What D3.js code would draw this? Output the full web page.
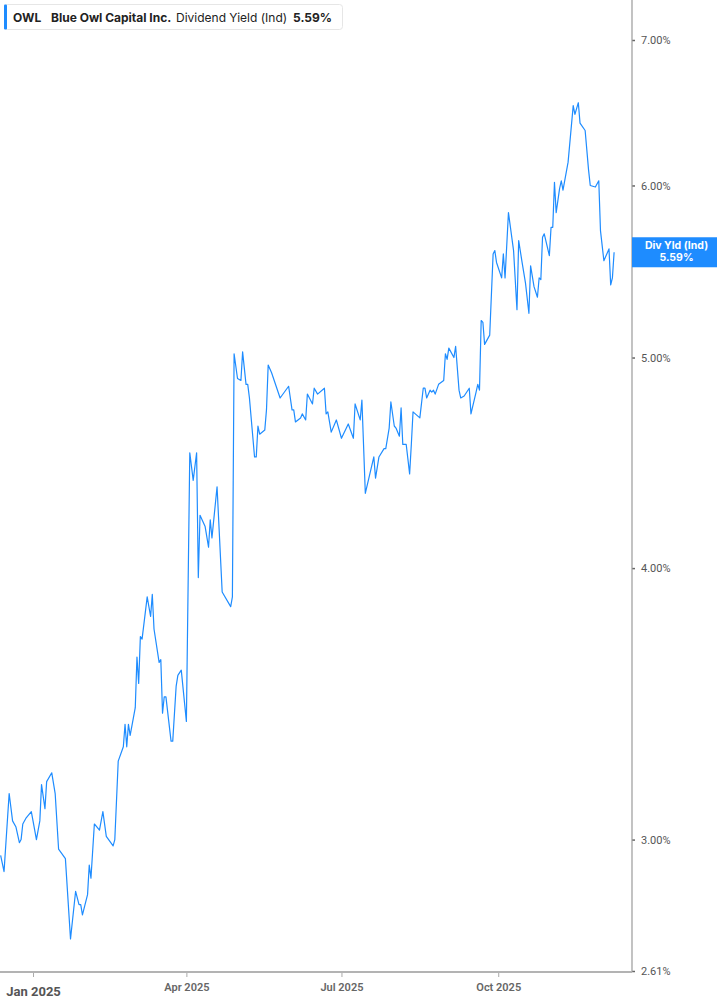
<!DOCTYPE html>
<html><head><meta charset="utf-8">
<script src="https://cdn.jsdelivr.net/npm/d3@7"></script>
<style>
html,body{margin:0;padding:0;background:#fff;}
svg{display:block;}
</style></head>
<body>
<svg id="chart" width="717" height="1005"></svg>
<script>
const ticker = "OWL";
const companyName = "Blue Owl Capital Inc.";
const metricName = "Dividend Yield (Ind)";
const lastLabel = "Div Yld (Ind)";

const dates = [
"2024-12-13","2024-12-15","2024-12-18","2024-12-20","2024-12-22","2024-12-24","2024-12-25","2024-12-26","2024-12-28","2024-12-31",
"2025-01-01","2025-01-03","2025-01-05","2025-01-06","2025-01-08","2025-01-09","2025-01-12","2025-01-14","2025-01-16","2025-01-20",
"2025-01-23","2025-01-26","2025-01-28","2025-01-29","2025-01-30","2025-02-02","2025-02-03","2025-02-04","2025-02-06","2025-02-09",
"2025-02-11","2025-02-13","2025-02-17","2025-02-18","2025-02-20","2025-02-23","2025-02-24","2025-02-25","2025-02-26","2025-02-27",
"2025-03-02","2025-03-03","2025-03-04","2025-03-05","2025-03-06","2025-03-09","2025-03-11","2025-03-12","2025-03-13","2025-03-16",
"2025-03-17","2025-03-18","2025-03-19","2025-03-20","2025-03-23","2025-03-24","2025-03-26","2025-03-27","2025-03-29","2025-04-01",
"2025-04-03","2025-04-05","2025-04-07","2025-04-08","2025-04-09","2025-04-12","2025-04-14","2025-04-15","2025-04-16","2025-04-19",
"2025-04-22","2025-04-27","2025-04-28","2025-04-29","2025-05-01","2025-05-03","2025-05-04","2025-05-06","2025-05-07","2025-05-08",
"2025-05-11","2025-05-12","2025-05-13","2025-05-14","2025-05-17","2025-05-18","2025-05-19","2025-05-21","2025-05-26","2025-05-31",
"2025-06-02","2025-06-03","2025-06-04","2025-06-07","2025-06-08","2025-06-10","2025-06-11","2025-06-14","2025-06-15","2025-06-17",
"2025-06-21","2025-06-22","2025-06-23","2025-06-25","2025-06-28","2025-07-01","2025-07-05","2025-07-08","2025-07-09","2025-07-12",
"2025-07-13","2025-07-15","2025-07-20","2025-07-21","2025-07-23","2025-07-26","2025-07-27","2025-07-29","2025-07-30","2025-08-01",
"2025-08-02","2025-08-04","2025-08-05","2025-08-06","2025-08-08","2025-08-10","2025-08-11","2025-08-12","2025-08-16","2025-08-18",
"2025-08-19","2025-08-20","2025-08-22","2025-08-23","2025-08-24","2025-08-25","2025-08-27","2025-08-30","2025-08-31","2025-09-01",
"2025-09-02","2025-09-05","2025-09-06","2025-09-08","2025-09-09","2025-09-11","2025-09-14","2025-09-15","2025-09-18","2025-09-19",
"2025-09-20","2025-09-21","2025-09-22","2025-09-23","2025-09-26","2025-09-28","2025-09-29","2025-09-30","2025-10-03","2025-10-04",
"2025-10-05","2025-10-07","2025-10-10","2025-10-12","2025-10-13","2025-10-15","2025-10-17","2025-10-19","2025-10-20","2025-10-22",
"2025-10-24","2025-10-25","2025-10-26","2025-10-27","2025-10-28","2025-10-31","2025-11-01","2025-11-02","2025-11-03","2025-11-04",
"2025-11-06","2025-11-07","2025-11-08","2025-11-11","2025-11-14","2025-11-15","2025-11-17","2025-11-18","2025-11-21","2025-11-23",
"2025-11-24","2025-11-27","2025-11-29","2025-11-30","2025-12-02","2025-12-05","2025-12-06","2025-12-07","2025-12-08"
];

const yieldValues = [
2.95,2.90,3.15,3.06,3.04,2.99,3.00,3.05,3.07,3.09,
3.06,3.00,3.06,3.18,3.10,3.19,3.22,3.15,2.97,2.94,
2.70,2.84,2.80,2.80,2.77,2.83,2.92,2.88,3.05,3.03,
3.09,3.01,2.98,3.00,3.26,3.31,3.39,3.31,3.39,3.35,
3.45,3.64,3.54,3.72,3.71,3.88,3.80,3.89,3.75,3.62,
3.63,3.43,3.49,3.49,3.33,3.33,3.53,3.57,3.59,3.40,
4.52,4.39,4.52,3.96,4.23,4.18,4.09,4.21,4.13,4.36,
3.90,3.84,3.88,5.02,4.89,4.88,5.03,4.86,4.86,4.79,
4.50,4.50,4.65,4.61,4.63,4.73,4.96,4.92,4.79,4.85,
4.73,4.73,4.67,4.69,4.71,4.68,4.81,4.76,4.84,4.81,
4.84,4.71,4.72,4.62,4.68,4.59,4.66,4.59,4.76,4.68,
4.78,4.33,4.50,4.40,4.50,4.54,4.54,4.64,4.77,4.65,
4.64,4.60,4.74,4.56,4.56,4.42,4.56,4.72,4.69,4.84,
4.84,4.79,4.83,4.82,4.83,4.81,4.86,4.88,5.02,4.99,
5.05,5.00,5.06,4.83,4.79,4.80,4.84,4.71,4.82,4.86,
4.83,5.20,5.19,5.07,5.12,5.58,5.60,5.53,5.44,5.58,
5.44,5.83,5.60,5.26,5.66,5.53,5.41,5.24,5.51,5.39,
5.33,5.44,5.43,5.68,5.70,5.57,5.74,5.74,6.02,5.83,
5.98,6.03,5.97,6.15,6.53,6.47,6.55,6.41,6.36,6.10,
6.00,5.99,6.03,5.72,5.54,5.61,5.40,5.44,5.59
];

const yTickValues = [3, 4, 5, 6, 7];
const yMinLabel = 2.61;
const xTickDates = ["2025-01-01","2025-04-01","2025-07-01","2025-10-01"];
const xTickLabels = ["Jan 2025","Apr 2025","Jul 2025","Oct 2025"];

const W = 717, H = 1005;
const plotRight = 632, plotBottom = 972;
const blue = "#1e8cff";

const parse = d3.utcParse("%Y-%m-%d");
const data = dates.map((d,i)=>({date: parse(d), v: yieldValues[i]}));

const x = d3.scaleUtc()
  .domain([new Date(Date.UTC(2024,11,12,15)), new Date(Date.UTC(2025,11,18,12))])
  .range([0, plotRight]);
const y = d3.scaleLog().domain([yMinLabel, 7.0]).range([plotBottom - 1, 40]);

const svg = d3.select("#chart");

// line
svg.append("path")
  .datum(data)
  .attr("fill","none")
  .attr("stroke", blue)
  .attr("stroke-width", 1.2)
  .attr("stroke-linejoin","round")
  .attr("d", d3.line().x(d=>x(d.date)).y(d=>y(d.v)));

// right axis
const yAxis = d3.axisRight(y).tickValues(yTickValues.concat([yMinLabel]))
  .tickFormat(d=>d3.format(".2f")(d)+"%").tickSize(3).tickPadding(6);
const ga = svg.append("g").attr("transform",`translate(${plotRight},0)`).call(yAxis);
ga.select(".domain").remove();
ga.selectAll(".tick line").attr("stroke","#666").attr("stroke-width",1.5);
ga.selectAll(".tick text").attr("fill","#555").style("font-family","Roboto, sans-serif").style("font-size","11px");
svg.append("line").attr("x1",plotRight).attr("x2",plotRight).attr("y1",0).attr("y2",plotBottom)
  .attr("stroke","#9a9a9a").attr("stroke-width",1.2);

// bottom axis
const xAxis = d3.axisBottom(x).tickValues(xTickDates.map(parse))
  .tickFormat((d,i)=>xTickLabels[i]).tickSize(5).tickPadding(6);
const gx = svg.append("g").attr("transform",`translate(0,${plotBottom})`).call(xAxis);
gx.select(".domain").remove();
svg.append("line").attr("x1",0).attr("x2",plotRight).attr("y1",plotBottom).attr("y2",plotBottom)
  .attr("stroke","#b3b3b3").attr("stroke-width",2);
gx.selectAll(".tick line").attr("stroke","#aaa").attr("stroke-width",1);
gx.selectAll(".tick text").attr("fill","#666").style("font-family","Roboto, sans-serif")
  .style("font-size","11px").style("font-weight","600");
gx.selectAll(".tick text").filter((d,i)=>i===0)
  .attr("fill","#555").style("font-size","13px").style("font-weight","700")
  .attr("dy","1.0em");

// last value label
const last = data[data.length-1];
const ly = y(last.v);
svg.append("rect").attr("x",plotRight).attr("y",ly-15).attr("width",W-plotRight).attr("height",30).attr("fill",blue);
svg.append("text").attr("x",(plotRight+W)/2+2).attr("y",ly-3).attr("text-anchor","middle")
  .attr("fill","#fff").style("font-family","Inter, sans-serif").style("font-size","10.5px").style("font-weight","700")
  .text(lastLabel);
svg.append("text").attr("x",(plotRight+W)/2+2).attr("y",ly+9).attr("text-anchor","middle")
  .attr("fill","#fff").style("font-family","Inter, sans-serif").style("font-size","10.5px").style("font-weight","700")
  .text(d3.format(".2f")(last.v)+"%");

// header legend
const hg = svg.append("g");
hg.append("rect").attr("x",4.5).attr("y",4.5).attr("width",338).attr("height",25).attr("rx",3)
  .attr("fill","#fff").attr("stroke","#e6e6e6");
hg.append("rect").attr("x",4).attr("y",4.5).attr("width",3).attr("height",25).attr("rx",1).attr("fill",blue);
const ht = hg.append("text").attr("y",21.5).style("font-family","Inter, sans-serif").style("font-size","12px").attr("fill","#222");
ht.append("tspan").attr("x",13).style("font-weight","700").text(ticker);
ht.append("tspan").attr("x",51).style("font-weight","700").text(companyName);
ht.append("tspan").attr("x",176).style("font-weight","400").text(metricName);
ht.append("tspan").attr("x",293).style("font-weight","700").text(d3.format(".2f")(last.v)+"%");
</script>
</body></html>
